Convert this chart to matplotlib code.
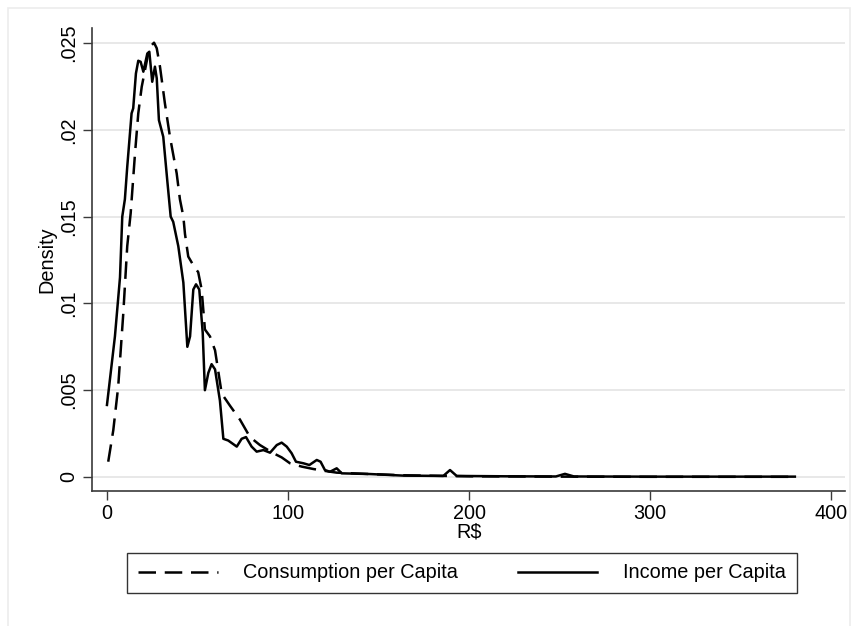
import matplotlib
matplotlib.use("Agg")
import matplotlib.pyplot as plt
from matplotlib.patches import Rectangle

# Income per Capita (solid)
inc_x = [0, 4.4, 7.2, 8.45, 9.9, 11.2, 13.6, 14.5, 16.0, 17.3, 18.6, 20.1, 22.3, 23.4,
         25.0, 26.5, 27.5, 28.7, 31.1, 33.3, 35.2, 36.6, 39.4, 42.2, 44.4, 45.9, 47.7,
         49.2, 51.0, 52.9, 54.1, 56.0, 57.8, 59.7, 62.4, 64.3, 67.0, 71.7, 74.4, 76.8,
         79.9, 82.7, 86.4, 90.1, 93.8, 96.5, 99.3, 102.0, 104.4, 108.5, 111.8, 115.9,
         118.0, 120.4, 123.2, 126.9, 129.7, 145.3, 163.5, 185.8, 189.5, 193.2, 220,
         248, 253, 258, 300, 340, 380]
inc_y = [0.00415, 0.0081, 0.0115, 0.0150, 0.0160, 0.01787, 0.02095, 0.02124, 0.02325,
         0.02398, 0.02392, 0.02335, 0.0244, 0.0245, 0.02277, 0.02364, 0.02297, 0.02056,
         0.0196, 0.0171, 0.0150, 0.0147, 0.0133, 0.0112, 0.0075, 0.0081, 0.0108, 0.0111,
         0.0108, 0.0083, 0.0050, 0.0060, 0.0065, 0.0062, 0.0044, 0.0022, 0.0021, 0.00175,
         0.0022, 0.0023, 0.00175, 0.00146, 0.00155, 0.0014, 0.00184, 0.00198, 0.00175,
         0.00137, 0.00088, 0.00079, 0.00069, 0.00098, 0.00088, 0.0004, 0.0003, 0.0005,
         0.00021, 0.00017, 0.00008, 0.00006, 0.0004, 0.00006, 0.00004, 0.00003, 0.00018,
         0.00003, 0.00002, 0.00002, 0.00002]

# Consumption per Capita (dashed)
con_x = [0.7, 3.5, 6.2, 9.0, 11.2, 13.1, 15.5, 17.3, 19.2, 21.0, 22.8, 24.7, 26.0, 27.5,
         29.3, 32.0, 34.8, 38.5, 40.3, 42.2, 43.1, 44.9, 47.7, 50.4, 52.3, 54.1, 56.9,
         59.7, 63.4, 68.0, 73.5, 79.0, 84.5, 91.9, 96.5, 101.1, 107.5, 114.0, 120.4,
         126.9, 145, 163, 200, 250, 300, 380]
con_y = [0.00088, 0.0027, 0.0052, 0.0094, 0.0133, 0.0152, 0.01865, 0.02095, 0.02248,
         0.02344, 0.0244, 0.02488, 0.02502, 0.0247, 0.02363, 0.02153, 0.0196, 0.0175,
         0.0160, 0.0150, 0.0140, 0.0127, 0.0122, 0.0118, 0.0108, 0.0085, 0.0081, 0.0073,
         0.0048, 0.0041, 0.0033, 0.0023, 0.00184, 0.00137, 0.00113, 0.00079, 0.0006,
         0.00046, 0.00035, 0.00025, 0.00017, 0.0001, 0.00004, 0.00002, 0.00001, 0.00001]

x_ticks = [0, 100, 200, 300, 400]
y_ticks = [0, 0.005, 0.01, 0.015, 0.02, 0.025]
y_tick_labels = ["0", ".005", ".01", ".015", ".02", ".025"]

plt.rcParams['font.family'] = ['Liberation Sans', 'DejaVu Sans']

W, H = 857, 626
fig = plt.figure(figsize=(W / 100, H / 100), dpi=100)
fig.patch.set_facecolor('white')

# outer graph region border
fig.patches.append(Rectangle((8 / W, -0.01), (850 - 8) / W, 1.01 - 8 / H,
                             transform=fig.transFigure, fill=False,
                             edgecolor='#ececec', linewidth=1.2, zorder=0))

left, right, bottom, top = 92.3, 845, 490.7, 28.3
ax = fig.add_axes([left / W, 1 - bottom / H, (right - left) / W, (bottom - top) / H])

ax.plot(con_x, con_y, color='black', linewidth=1.8, linestyle=(0, (7, 3.5)),
        label='Consumption per Capita', solid_capstyle='butt', dash_capstyle='butt')
ax.plot(inc_x, inc_y, color='black', linewidth=1.8, linestyle='-',
        label='Income per Capita', solid_joinstyle='round')

ax.set_xlim(-8.1, 407.7)
ax.set_ylim(-0.00079, 0.02585)

ax.set_xticks(x_ticks)
ax.set_xticklabels([str(t) for t in x_ticks])
ax.set_yticks(y_ticks)
ax.set_yticklabels(y_tick_labels, rotation=90, va='center')

ax.grid(axis='y', color='#e6e6e6', linewidth=1.3)
ax.set_axisbelow(True)
ax.grid(axis='x', visible=False)

for s in ['top', 'right']:
    ax.spines[s].set_visible(False)
for s in ['left', 'bottom']:
    ax.spines[s].set_color('#3a3a3a')
    ax.spines[s].set_linewidth(1.2)

ax.tick_params(axis='both', direction='out', length=6.3, width=1.0, color='#3a3a3a',
               labelsize=14.3, labelcolor='black')
ax.tick_params(axis='x', pad=3)
ax.tick_params(axis='y', pad=4)

ax.set_xlabel('R$', fontsize=14.3, labelpad=0)
ax.set_ylabel('Density', fontsize=14.3, labelpad=2)

leg = fig.legend(loc='center', bbox_to_anchor=(462 / W, 1 - 573 / H), ncol=2,
                 fontsize=14.3, frameon=True, fancybox=False, shadow=False,
                 handlelength=4.0, handletextpad=1.3, columnspacing=3.0,
                 borderpad=0.55, borderaxespad=0)
leg.get_frame().set_edgecolor('black')
leg.get_frame().set_linewidth(1.0)

fig.savefig('out.png', dpi=100, facecolor='white')
